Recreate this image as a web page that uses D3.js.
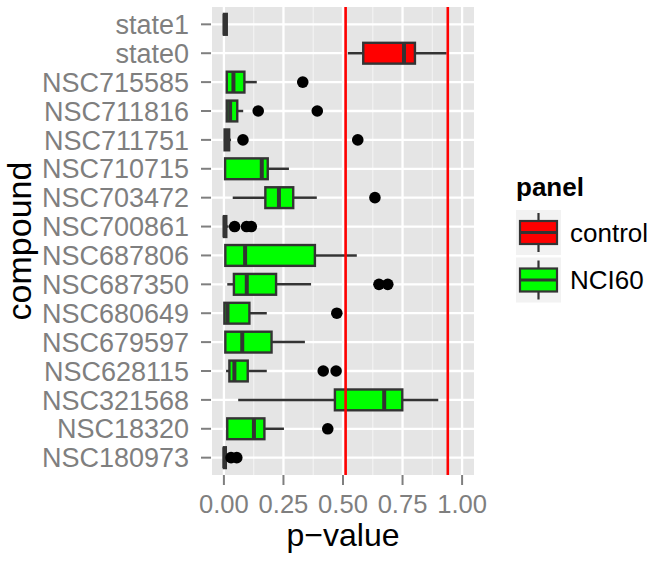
<!DOCTYPE html>
<html lang="en">
<head>
  <meta charset="UTF-8">
  <title>p-value por compuesto</title>
  <script src="https://cdn.jsdelivr.net/npm/d3@7"></script>
  <style>
    body { margin: 0; background: #fff; }
    text { font-family: "Liberation Sans", Arial, sans-serif; }
  </style>
</head>
<body>
<div id="grafica"></div>

<script>
// datos
compuestos = ['state1', 'state0', 'NSC715585', 'NSC711816', 'NSC711751', 'NSC710715',
              'NSC703472', 'NSC700861', 'NSC687806', 'NSC687350', 'NSC680649',
              'NSC679597', 'NSC628115', 'NSC321568', 'NSC18320', 'NSC180973']
panel    = ['control', 'control', 'NCI60', 'NCI60', 'NCI60', 'NCI60', 'NCI60', 'NCI60',
            'NCI60', 'NCI60', 'NCI60', 'NCI60', 'NCI60', 'NCI60', 'NCI60', 'NCI60']
bigoteBajo = [0, 0.52, 0.012, 0.012, 0, 0.005, 0.037, 0, 0.006, 0.014, 0.002, 0.006, 0.009, 0.06, 0.012, 0]
q1         = [0, 0.585, 0.012, 0.012, 0.003, 0.005, 0.174, 0, 0.006, 0.042, 0.002, 0.006, 0.023, 0.466, 0.014, 0]
mediana    = [0.003, 0.756, 0.04, 0.026, 0.012, 0.159, 0.231, 0.003, 0.089, 0.096, 0.015, 0.077, 0.044, 0.673, 0.126, 0.002]
q3         = [0.012, 0.802, 0.086, 0.056, 0.022, 0.184, 0.291, 0.01, 0.382, 0.219, 0.107, 0.2, 0.1, 0.749, 0.17, 0.008]
bigoteAlto = [0.012, 0.935, 0.138, 0.081, 0.03, 0.273, 0.39, 0.02, 0.558, 0.366, 0.18, 0.34, 0.18, 0.9, 0.252, 0.012]
atipicos   = [[], [], [0.331], [0.144, 0.392], [0.08, 0.562], [], [0.634], [0.045, 0.095, 0.115],
              [], [0.651, 0.688], [0.474], [], [0.417, 0.471], [], [0.436], [0.03, 0.054]]
lineasRojas = [0.511, 0.94]
ticksX   = [0, 0.25, 0.5, 0.75, 1]
etiquetasX = ['0.00', '0.25', '0.50', '0.75', '1.00']
paneles  = ['control', 'NCI60']
colores  = ['#ff0000', '#00ff00']

ancho = 658
alto  = 563
izq = 212, der = 474, arriba = 7, abajo = 475
gris = '#333333'

svg = d3.select('#grafica')
        .append('svg')
        .attr('width', ancho)
        .attr('height', alto)

x = d3.scaleLinear()
      .domain([-0.05, 1.05])
      .range([izq, der])
y = d3.scalePoint()
      .domain(compuestos)
      .range([arriba, abajo])
      .padding(0.6)
color = d3.scaleOrdinal()
          .domain(paneles)
          .range(colores)

alturaCaja = y.step() * 0.72

// fondo del panel y rejilla
svg.append('rect')
   .attr('x', izq).attr('y', arriba)
   .attr('width', der - izq).attr('height', abajo - arriba)
   .attr('fill', '#e5e5e5')

menores = [-0.125, 0.125, 0.375, 0.625, 0.875, 1.125].filter(d => x(d) > izq && x(d) < der)
svg.selectAll('.menor')
   .data(menores)
   .enter().append('line')
   .attr('x1', d => x(d)).attr('x2', d => x(d))
   .attr('y1', arriba).attr('y2', abajo)
   .attr('stroke', '#f2f2f2').attr('stroke-width', 1.2)

svg.selectAll('.mayorX')
   .data(ticksX)
   .enter().append('line')
   .attr('x1', d => x(d)).attr('x2', d => x(d))
   .attr('y1', arriba).attr('y2', abajo)
   .attr('stroke', '#fff').attr('stroke-width', 2.3)

svg.selectAll('.mayorY')
   .data(compuestos)
   .enter().append('line')
   .attr('x1', izq).attr('x2', der)
   .attr('y1', d => y(d)).attr('y2', d => y(d))
   .attr('stroke', '#fff').attr('stroke-width', 2.3)

// cajas
datos = compuestos.map(function(c, i) {
  return { c: c, p: panel[i], lo: bigoteBajo[i], q1: q1[i], med: mediana[i],
           q3: q3[i], hi: bigoteAlto[i], out: atipicos[i] }
})

g = svg.selectAll('.caja')
       .data(datos)
       .enter().append('g')

g.append('line')
 .attr('x1', d => x(d.lo)).attr('x2', d => x(d.q1))
 .attr('y1', d => y(d.c)).attr('y2', d => y(d.c))
 .attr('stroke', gris).attr('stroke-width', 2.5)
g.append('line')
 .attr('x1', d => x(d.q3)).attr('x2', d => x(d.hi))
 .attr('y1', d => y(d.c)).attr('y2', d => y(d.c))
 .attr('stroke', gris).attr('stroke-width', 2.5)
g.append('rect')
 .attr('x', d => x(d.q1))
 .attr('y', d => y(d.c) - alturaCaja / 2)
 .attr('width', d => x(d.q3) - x(d.q1))
 .attr('height', alturaCaja)
 .attr('fill', d => color(d.p))
 .attr('stroke', gris).attr('stroke-width', 2.4)
g.append('line')
 .attr('x1', d => x(d.med)).attr('x2', d => x(d.med))
 .attr('y1', d => y(d.c) - alturaCaja / 2).attr('y2', d => y(d.c) + alturaCaja / 2)
 .attr('stroke', gris).attr('stroke-width', 4)

g.selectAll('circle')
 .data(d => d.out.map(v => ({ c: d.c, v: v })))
 .enter().append('circle')
 .attr('cx', d => x(d.v))
 .attr('cy', d => y(d.c))
 .attr('r', 5.8)
 .attr('fill', 'black')

// lineas verticales rojas
svg.selectAll('.roja')
   .data(lineasRojas)
   .enter().append('line')
   .attr('x1', d => x(d)).attr('x2', d => x(d))
   .attr('y1', arriba).attr('y2', abajo)
   .attr('stroke', '#ff0000').attr('stroke-width', 2.6)

// ejes
svg.selectAll('.tickX')
   .data(ticksX)
   .enter().append('line')
   .attr('x1', d => x(d)).attr('x2', d => x(d))
   .attr('y1', abajo).attr('y2', abajo + 10)
   .attr('stroke', '#7f7f7f').attr('stroke-width', 2)
svg.selectAll('.etqX')
   .data(ticksX)
   .enter().append('text')
   .attr('x', d => x(d))
   .attr('y', 513)
   .attr('text-anchor', 'middle')
   .attr('font-size', 25.6)
   .attr('fill', '#7f7f7f')
   .text((d, i) => etiquetasX[i])

svg.selectAll('.tickY')
   .data(compuestos)
   .enter().append('line')
   .attr('x1', izq - 11).attr('x2', izq - 1)
   .attr('y1', d => y(d)).attr('y2', d => y(d))
   .attr('stroke', '#7f7f7f').attr('stroke-width', 2)
svg.selectAll('.etqY')
   .data(compuestos)
   .enter().append('text')
   .attr('x', 189)
   .attr('y', d => y(d))
   .attr('dy', '0.36em')
   .attr('text-anchor', 'end')
   .attr('font-size', 27)
   .attr('fill', '#7f7f7f')
   .text(d => d)

svg.append('text')
   .attr('x', (izq + der) / 2).attr('y', 546)
   .attr('text-anchor', 'middle')
   .attr('font-size', 32)
   .text('p\u2212value')
svg.append('text')
   .attr('transform', 'translate(31,' + ((arriba + abajo) / 2) + ') rotate(-90)')
   .attr('text-anchor', 'middle')
   .attr('font-size', 34)
   .text('compound')

// leyenda
ley = svg.append('g').attr('transform', 'translate(516,0)')
ley.append('text')
   .attr('x', 0).attr('y', 196)
   .attr('font-size', 26)
   .attr('font-weight', 'bold')
   .text('panel')

k = ley.selectAll('.llave')
       .data(paneles)
       .enter().append('g')
       .attr('transform', (d, i) => 'translate(0,' + (210 + i * 47.5) + ')')
k.append('rect')
 .attr('width', 45).attr('height', 45)
 .attr('fill', '#f2f2f2')
k.append('line')
 .attr('x1', 22.5).attr('x2', 22.5).attr('y1', 3).attr('y2', 42)
 .attr('stroke', gris).attr('stroke-width', 2.2)
k.append('rect')
 .attr('x', 4).attr('y', 11).attr('width', 37).attr('height', 23)
 .attr('fill', d => color(d))
 .attr('stroke', gris).attr('stroke-width', 2.2)
k.append('line')
 .attr('x1', 4).attr('x2', 41).attr('y1', 22.5).attr('y2', 22.5)
 .attr('stroke', gris).attr('stroke-width', 3)
k.append('text')
 .attr('x', 54).attr('y', 22.5)
 .attr('dy', '0.36em')
 .attr('font-size', 26)
 .text(d => d)
</script>
</body>
</html>
